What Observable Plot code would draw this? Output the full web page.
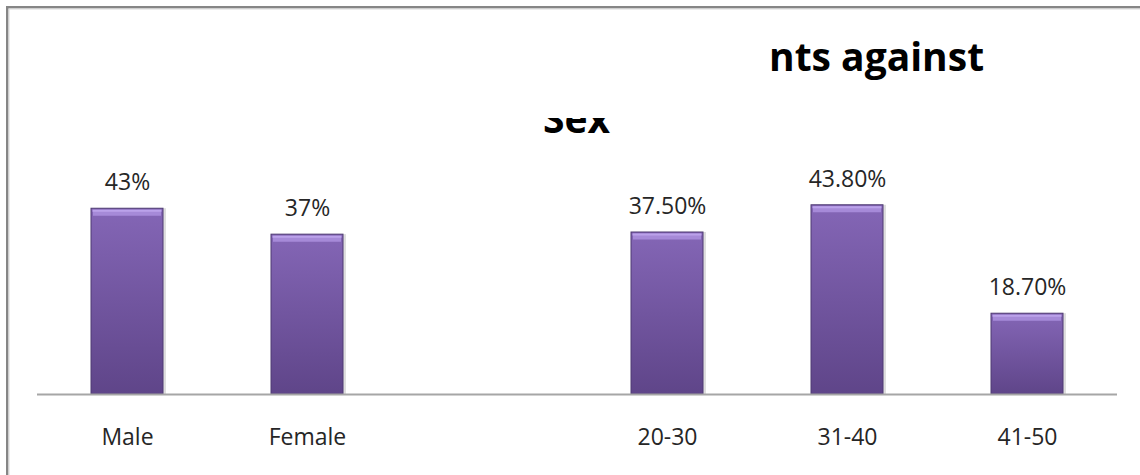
<!DOCTYPE html>
<html>
<head>
<meta charset="utf-8">
<script src="https://cdn.jsdelivr.net/npm/d3@7"></script>
<script src="https://cdn.jsdelivr.net/npm/@observablehq/plot@0.6"></script>
<style>
  html, body { margin: 0; padding: 0; background: #fff; }
  #chart { position: relative; width: 1140px; height: 475px; overflow: hidden; }
  svg { font-family: "Open Sans", sans-serif; }
</style>
</head>
<body>
<div id="chart"></div>
<script>
// ---- data ----
const categories = ["Male", "Female", "", "20-30", "31-40", "41-50"];
const barCategories = ["Male", "Female", "20-30", "31-40", "41-50"];
const values = [43, 37, 37.5, 43.8, 18.7];
const valueLabels = ["43%", "37%", "37.50%", "43.80%", "18.70%"];
const titleLine1 = "nts against";
const titleLine2 = "Sex";

const data = barCategories.map((c, i) => ({cat: c, value: values[i], label: valueLabels[i]}));

const svg = Plot.plot({
  width: 1140,
  height: 475,
  marginLeft: 37,
  marginRight: 23,
  marginTop: 178,
  marginBottom: 81,
  style: {background: "transparent", fontFamily: "'Open Sans', sans-serif"},
  x: {domain: categories, paddingInner: 0.6, paddingOuter: 0.3, label: null},
  y: {domain: [0, 50], axis: null},
  marks: [
    // soft shadow
    Plot.barY(data, {x: "cat", y: "value", fill: "#c8c8c8", fillOpacity: 0.6, dx: 3}),
    // bar body
    Plot.barY(data, {x: "cat", y: "value", fill: "url(#barGrad)", stroke: "#4e3a72", strokeWidth: 1}),
    // top bevel
    Plot.tickY(data, {x: "cat", y: "value", stroke: "#a68ad8", strokeWidth: 6, dy: 4, inset: 2}),
    Plot.tickY(data, {x: "cat", y: "value", stroke: "#bba2ea", strokeWidth: 2, dy: 2, inset: 1.5}),
    Plot.ruleY([0], {stroke: "#a6a6a6", strokeWidth: 2}),
    Plot.text(data, {x: "cat", y: "value", text: "label", dy: -26, fontSize: 23, fill: "#262626"}),
    Plot.axisX({tickSize: 0, tickPadding: 34, fontSize: 23, color: "#262626", label: null})
  ]
});

const s = d3.select(svg);
const defs = s.insert("defs", ":first-child");
const g1 = defs.append("linearGradient").attr("id", "barGrad").attr("x1", 0).attr("y1", 0).attr("x2", 0).attr("y2", 1);
g1.append("stop").attr("offset", "0%").attr("stop-color", "#8466b6");
g1.append("stop").attr("offset", "100%").attr("stop-color", "#5f4589");
const clip = defs.append("clipPath").attr("id", "titleClip");
clip.append("rect").attr("x", 0).attr("y", 118).attr("width", 1140).attr("height", 40);

// outer frame
s.append("rect")
  .attr("x", 7.25).attr("y", 7.25).attr("width", 1200).attr("height", 600)
  .attr("fill", "none").attr("stroke", "#868686").attr("stroke-width", 2.5);
s.append("rect")
  .attr("x", 9).attr("y", 9).attr("width", 1200).attr("height", 600)
  .attr("fill", "none").attr("stroke", "#d9d9d9").attr("stroke-width", 1);

// title (partially hidden in the reference)
s.append("text")
  .attr("x", 769).attr("y", 71)
  .attr("text-anchor", "start")
  .attr("font-size", 39).attr("font-weight", "bold").attr("fill", "#000")
  .text(titleLine1);
s.append("text")
  .attr("x", 543).attr("y", 133)
  .attr("text-anchor", "start")
  .attr("clip-path", "url(#titleClip)")
  .attr("font-size", 39).attr("font-weight", "bold").attr("fill", "#000")
  .text(titleLine2);

document.getElementById("chart").appendChild(svg);
</script>
</body>
</html>
